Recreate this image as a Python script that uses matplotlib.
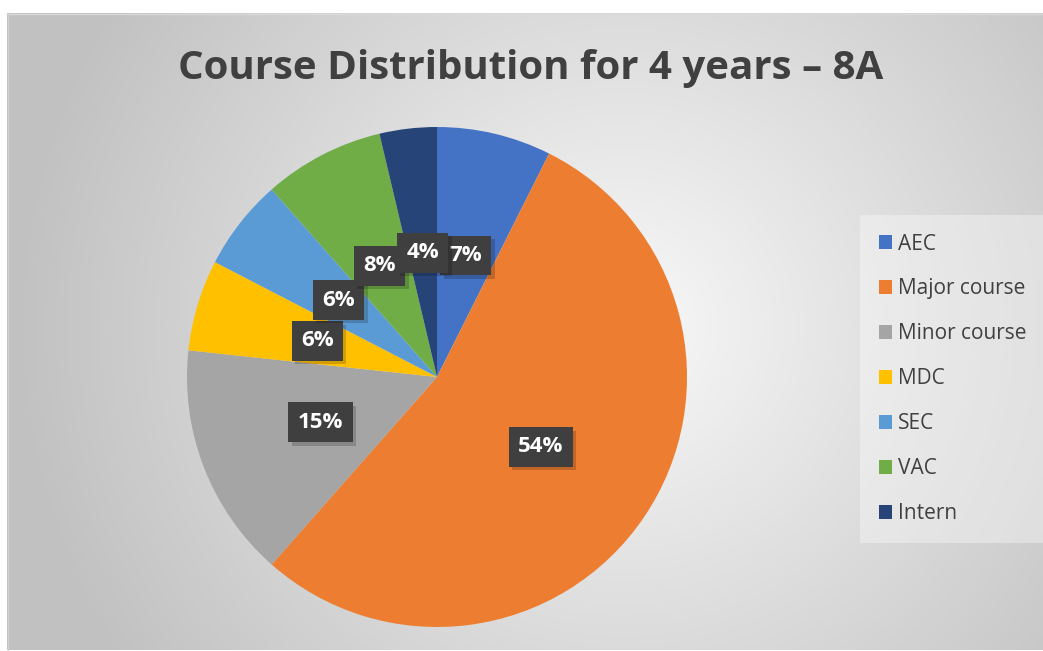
import matplotlib.pyplot as plt
import numpy as np
from matplotlib import patheffects as pe

# --- data ---
courses = ['AEC', 'Major course', 'Minor course', 'MDC', 'SEC', 'VAC', 'Intern']
shares = [7.4, 54.1, 15.2, 5.9, 5.9, 7.8, 3.7]
colors = ['#4472C4', '#ED7D31', '#A5A5A5', '#FFC000', '#5B9BD5', '#70AD47', '#264478']
title = 'Course Distribution for 4 years \u2013 8A'

W, H = 1043, 651
fig = plt.figure(figsize=(W / 100, H / 100), dpi=100)

# background: white margin + radial grey gradient chart area
bg = fig.add_axes([0, 0, 1, 1])
bg.set_xlim(0, W)
bg.set_ylim(H, 0)
bg.axis('off')
yy, xx = np.mgrid[0:H, 0:W]
d = np.hypot(xx - 620, yy - 320) / 620
shade = np.clip(0.975 - 0.22 * d, 0.76, 1.0)
img = np.dstack([shade] * 3)
bg.imshow(img, extent=[7, W, H - 1, 13], zorder=0, aspect='auto')
bg.plot([7, W], [13.5, 13.5], color='#d9d9d9', lw=1, zorder=1)
bg.plot([7.5, 7.5], [13, H], color='#d0d0d0', lw=1, zorder=1)

# pie
ax = fig.add_axes([187 / W, (H - 627) / H, 500 / W, 500 / H])
wedges, _, autotexts = ax.pie(shares, colors=colors, startangle=90, counterclock=False,
                              autopct='%.0f%%', pctdistance=0.5,
                              wedgeprops=dict(linewidth=0),
                              textprops=dict(color='white', fontsize=16, fontweight='bold',
                                             family='Open Sans'))
ax.set_xlim(-1, 1)
ax.set_ylim(-1, 1)
ax.set_aspect('equal')

for t in autotexts:
    t.set_bbox(dict(boxstyle='square,pad=0.42', fc='#3f3f3f', ec='none'))
    t.get_bbox_patch().set_path_effects([
        pe.SimplePatchShadow(offset=(2.5, -2.5), shadow_rgbFace='black', alpha=0.18),
        pe.Normal()])

fig.text(531 / W, 1 - 68 / H, title, ha='center', va='center', fontsize=29,
         fontweight='bold', color='#404040', family='Open Sans')

leg = ax.legend(wedges, courses, loc='upper left', bbox_to_anchor=(866 / W, 1 - 221 / H),
                bbox_transform=fig.transFigure, frameon=True,
                labelcolor='#404040', handlelength=0.65, handleheight=0.65,
                handletextpad=0.3, labelspacing=1.15, borderpad=0.6, borderaxespad=0,
                prop=dict(family='Open Sans', size=15))
leg.get_frame().set_facecolor('white')
leg.get_frame().set_alpha(0.35)
leg.get_frame().set_edgecolor('none')
leg.get_frame().set_boxstyle('square')

fig.savefig('out.png', dpi=100)
